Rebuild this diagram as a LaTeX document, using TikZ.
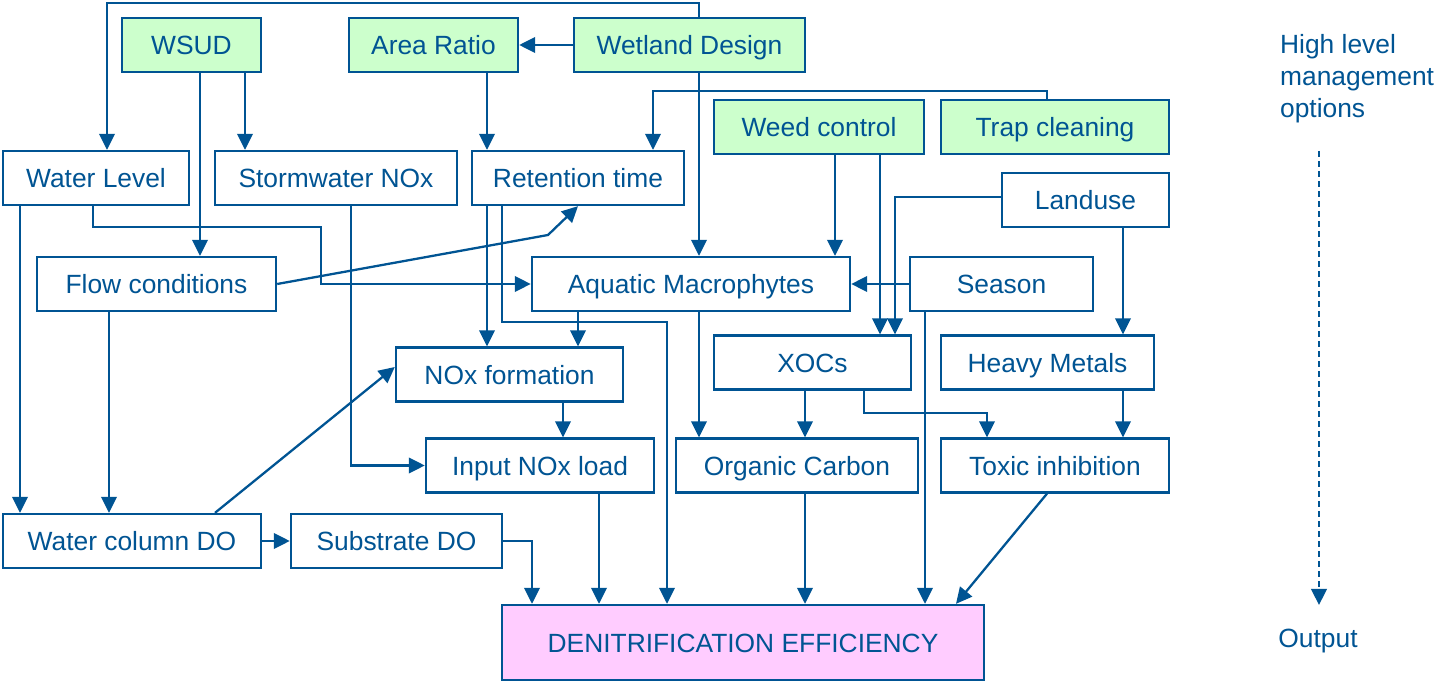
\documentclass[tikz,border=0pt]{standalone}
\usepackage{fontspec}
\setmainfont{Liberation Sans}
\usepackage{tikz}
\usepackage{xcolor}
\usetikzlibrary{arrows.meta}
\definecolor{navy}{RGB}{0,84,147}
\definecolor{optgreen}{RGB}{204,255,204}
\definecolor{outpink}{RGB}{255,204,255}

\begin{document}
\begin{tikzpicture}[x=0.01cm,y=-0.01cm,line width=0.65pt,color=navy,font=\fontsize{7.5}{9.1}\selectfont,
var node/.style={rectangle,draw=navy,fill=white,minimum height=0.54cm,inner sep=0pt,text height=0.245cm,text depth=0.055cm},
option node/.style={var node,fill=optgreen}]
\tikzstyle{link} = [draw,navy,-{Triangle[length=0.16cm,width=0.155cm]}]
\useasboundingbox (0,0) rectangle (1435,682);

% Management options
\node[option node,minimum width=1.39cm] (wsud) at (191.5,45) {WSUD};
\node[option node,minimum width=1.69cm] (ar) at (433.5,45) {Area Ratio};
\node[option node,minimum width=2.31cm] (wet) at (689.5,45) {Wetland Design};
\node[option node,minimum width=2.10cm] (weed) at (819,127) {Weed control};
\node[option node,minimum width=2.28cm] (trap) at (1055,127) {Trap cleaning};

% Intermediate variables
\node[var node,minimum width=1.86cm] (wl) at (96,178) {Water Level};
\node[var node,minimum width=2.42cm] (sw) at (336,178) {Stormwater NOx};
\node[var node,minimum width=2.12cm] (ret) at (578,178) {Retention time};
\node[var node,minimum width=1.67cm] (land) at (1085.5,200) {Landuse};
\node[var node,minimum width=2.39cm] (flow) at (156.5,284) {Flow conditions};
\node[var node,minimum width=3.18cm] (aq) at (691,284) {Aquatic Macrophytes};
\node[var node,minimum width=1.83cm] (sea) at (1001.5,284) {Season};
\node[var node,minimum width=2.27cm] (nox) at (509.5,374.5) {NOx formation};
\node[var node,minimum width=1.97cm] (xoc) at (812.5,362.5) {XOCs};
\node[var node,minimum width=2.13cm] (hm) at (1047.5,362.5) {Heavy Metals};
\node[var node,minimum width=2.28cm] (inx) at (540,465.5) {Input NOx load};
\node[var node,minimum width=2.42cm] (oc) at (797,465.5) {Organic Carbon};
\node[var node,minimum width=2.28cm] (ti) at (1055,465.5) {Toxic inhibition};
\node[var node,minimum width=2.58cm] (wcdo) at (132,541) {Water column DO};
\node[var node,minimum width=2.11cm] (sdo) at (396.5,541) {Substrate DO};

% Output
\node[var node,fill=outpink,minimum width=4.82cm,minimum height=0.75cm] (den) at (743,642.5) {DENITRIFICATION EFFICIENCY};

% Links from the options
\draw[link] (wet.north -| 699,0) -- (699,3) -| (wl.north -| 107,0);
\draw[link] (wet.west) -- (ar.east);
\draw[link] (wsud.south -| 245,0) -- (sw.north -| 245,0);
\draw[link] (wsud.south -| 200,0) -- (flow.north -| 200,0);
\draw[link] (ar.south -| 487,0) -- (ret.north -| 487,0);
\draw[link] (wet.south -| 699,0) -- (aq.north -| 699,0);
\draw[link] (trap.north -| 1047,0) -- (1047,91) -| (ret.north -| 653,0);
\draw[link] (weed.south -| 835,0) -- (aq.north -| 835,0);
\draw[link] (weed.south -| 880,0) -- (xoc.north -| 880,0);

% Links between variables
\draw[link] (land.west |- 0,197) -| (xoc.north -| 895,0);
\draw[link] (land.south -| 1123,0) -- (hm.north -| 1123,0);
\draw[link] (sea.west) -- (aq.east);
\draw[link] (sea.south -| 925,0) -- (den.north -| 925,0);
\draw[link] (wl.south -| 20,0) -- (wcdo.north -| 20,0);
\draw[link] (wl.south -| 93,0) |- (321,227) |- (aq.west);
\draw[link] (flow.east) -- (548,235) -- (ret.south);
\draw[link] (flow.south -| 109,0) -- (wcdo.north -| 109,0);
\draw[link] (sw.south -| 351,0) |- (inx.west);
\draw[link] (ret.south -| 487,0) -- (nox.north -| 487,0);
\draw[link] (ret.south -| 502,0) |- (667,322) -- (den.north -| 667,0);
\draw[link] (aq.south -| 578,0) -- (nox.north -| 578,0);
\draw[link] (aq.south -| 699,0) -- (oc.north -| 699,0);
\draw[link] (nox.south -| 563,0) -- (inx.north -| 563,0);
\draw[link] (wcdo.north -| 215,0) -- (nox.west |- 0,367);
\draw[link] (wcdo.east) -- (sdo.west);
\draw[link] (sdo.east) -| (den.north -| 532,0);
\draw[link] (inx.south -| 599,0) -- (den.north -| 599,0);
\draw[link] (xoc.south -| 805,0) -- (oc.north -| 805,0);
\draw[link] (xoc.south -| 864,0) |- (987,413) -- (ti.north -| 987,0);
\draw[link] (hm.south -| 1123,0) -- (ti.north -| 1123,0);
\draw[link] (oc.south -| 805,0) -- (den.north -| 805,0);
\draw[link] (ti.south -| 1047,0) -- (den.north -| 956,0);

% Legend on the right
\node[anchor=north west,inner sep=0pt,align=left] (hl) at (1279,33) {High level\\management\\options};
\node[anchor=base,inner sep=0pt] (outp) at (1318,648) {Output};
\coordinate (dtop) at (1319,151);
\coordinate (dbot) at (1319,605);
\draw[link,dash pattern=on 0.06cm off 0.04cm] (dtop) -- (dbot);

\end{tikzpicture}
\end{document}
